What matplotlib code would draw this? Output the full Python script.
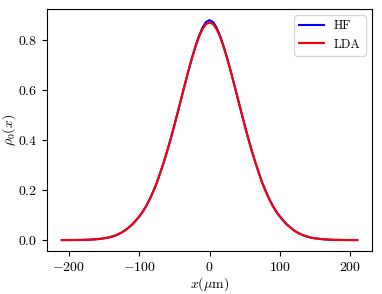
import matplotlib
matplotlib.use("Agg")
import matplotlib.pyplot as plt

plt.rcParams["font.family"] = "serif"
plt.rcParams["font.serif"] = ["cmr10", "DejaVu Serif"]
plt.rcParams["mathtext.fontset"] = "cm"
plt.rcParams["axes.formatter.use_mathtext"] = True
plt.rcParams["font.size"] = 10

# Positions (um) and density (symmetric about 0)
half_x = [0, 5, 10, 15, 20, 25, 30, 35, 40, 45, 50, 55, 60, 65, 70, 75, 80,
          85, 90, 95, 100, 105, 110, 115, 120, 125, 130, 135, 140, 145, 150,
          160, 170, 180, 190, 200, 210]
tail = [0.406, 0.357, 0.311, 0.269, 0.228, 0.194, 0.163, 0.136, 0.113,
        0.094, 0.077, 0.062, 0.050, 0.039, 0.030, 0.023, 0.017, 0.013,
        0.009, 0.007, 0.0035, 0.0017, 0.0008, 0.0003, 0.0001, 0.0]
half_hf = [0.878, 0.870, 0.848, 0.815, 0.774, 0.727, 0.676, 0.622, 0.567,
           0.512, 0.458] + tail
half_lda = [0.868, 0.862, 0.842, 0.811, 0.771, 0.725, 0.675, 0.621, 0.567,
            0.512, 0.458] + tail

x = [-v for v in half_x[:0:-1]] + half_x
rho_hf = half_hf[:0:-1] + half_hf
rho_lda = half_lda[:0:-1] + half_lda

fig = plt.figure(figsize=(3.82, 2.94), dpi=100)
ax = fig.add_axes([0.123, 0.146, 0.851, 0.823])
ax.plot(x, rho_hf, color="blue", lw=1.5, label="HF")
ax.plot(x, rho_lda, color="red", lw=1.5, label="LDA")
ax.set_xlabel(r"$x(\mu$m$)$", labelpad=1)
ax.set_ylabel(r"$\rho_0(x)$")
ax.yaxis.set_label_coords(-0.088, 0.5)
ax.set_yticks([0.0, 0.2, 0.4, 0.6, 0.8])
ax.legend(loc="upper right", fontsize=9)

fig.savefig("out.png", dpi=100)
